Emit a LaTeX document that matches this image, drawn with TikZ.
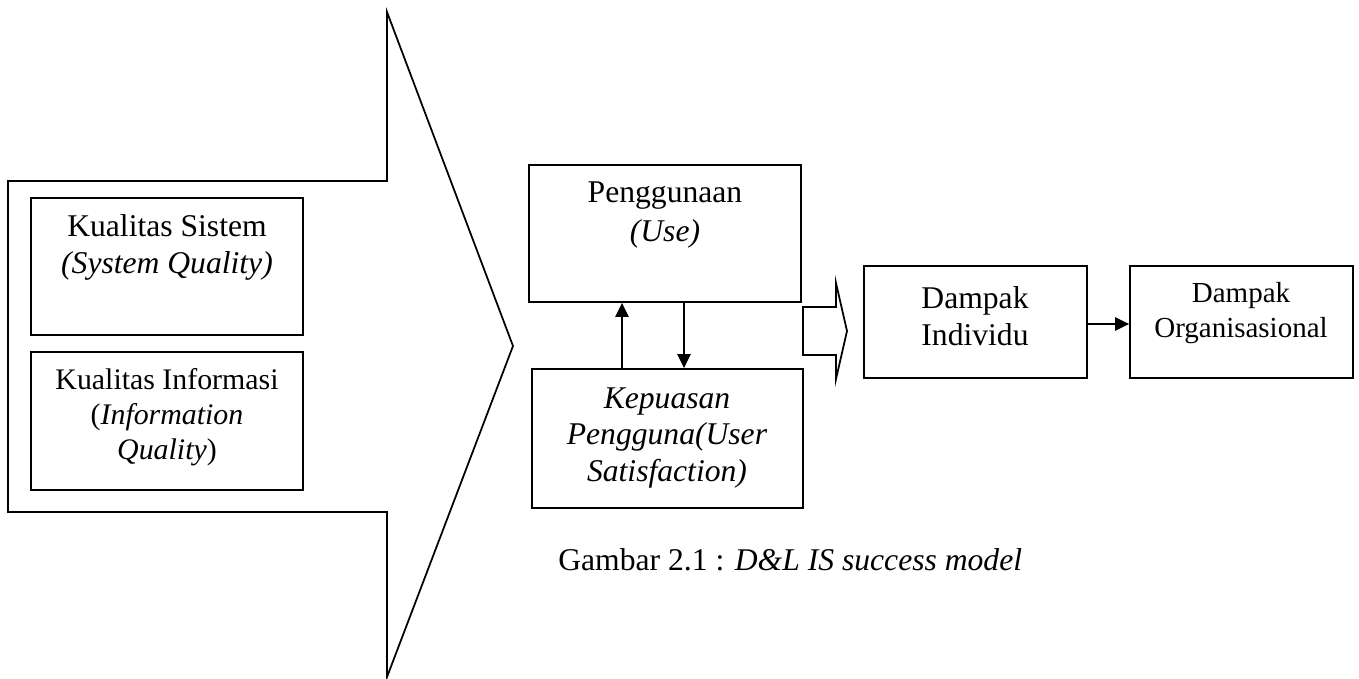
\documentclass[tikz,border=0pt]{standalone}
\usepackage{fontspec}
\setmainfont{Liberation Serif}
\usetikzlibrary{arrows.meta,fit}

\begin{document}
\begin{tikzpicture}[x=0.02cm,y=-0.02cm,line join=miter]
	\tikzstyle{kotak}=[draw,line width=1pt,inner sep=0pt];
	\tikzstyle{bentuk}=[draw,line width=1pt];
	\tikzstyle{teks}=[align=center,inner sep=0pt,font=\fontsize{18}{21}\selectfont];
	\tikzstyle{tekskecil}=[align=center,inner sep=0pt,font=\fontsize{16.5}{19.5}\selectfont];
	\tikzstyle{panah}=[line width=1.2pt,-{Triangle[length=8pt,width=7.5pt]}];
%<--------------------------------------------------------------------------->%
	\useasboundingbox (0,0) rectangle (1359,679);

	% panah besar
	\coordinate (A) at (8,181);
	\coordinate (B) at (387,181);
	\coordinate (C) at (387,12);
	\coordinate (D) at (513,346);
	\coordinate (E) at (387,677);
	\coordinate (F) at (387,512);
	\coordinate (G) at (8,512);
	\draw[bentuk] (A) -- (B) -- (C) -- (D) -- (E) -- (F) -- (G) -- cycle;

	% kotak kualitas
	\node[kotak,fit={(31,198) (303,335)}] (sq) {};
	\node[kotak,fit={(31,352) (303,490)}] (iq) {};
	\node[teks] (sqt) at (167,247) {Kualitas Sistem\\\textit{(System Quality)}};
	\node[teks,font=\fontsize{17}{20}\selectfont] (iqt) at (167,417) {Kualitas Informasi\\(\textit{Information}\\\textit{Quality})};

	% penggunaan dan kepuasan
	\node[kotak,fit={(529,165) (801,302)}] (use) {};
	\node[kotak,fit={(532,369) (803,508)}] (sat) {};
	\node[teks,font=\fontsize{18}{22}\selectfont] (uset) at (665,215) {Penggunaan\\\textit{(Use)}};
	\node[teks] (satt) at (667,438) {\textit{Kepuasan}\\\textit{Pengguna(User}\\\textit{Satisfaction)}};
	\coordinate (naik) at (622,0);
	\coordinate (turun) at (684,0);
	\draw[panah] (sat.north -| naik) -- (use.south -| naik);
	\draw[panah] (use.south -| turun) -- (sat.north -| turun);

	% panah kosong
	\coordinate (H1) at (803,307);
	\coordinate (H2) at (836,307);
	\coordinate (H3) at (836,283);
	\coordinate (H4) at (847,331);
	\coordinate (H5) at (836,379);
	\coordinate (H6) at (836,355);
	\coordinate (H7) at (803,355);
	\draw[bentuk] (H1) -- (H2) -- (H3) -- (H4) -- (H5) -- (H6) -- (H7) -- cycle;

	% dampak
	\node[kotak,fit={(864,266) (1087,378)}] (ind) {};
	\node[kotak,fit={(1130,266) (1353,378)}] (org) {};
	\node[teks] (indt) at (975,316) {Dampak\\Individu};
	\node[tekskecil] (orgt) at (1241,313) {Dampak\\Organisasional};
	\coordinate (tengah) at (0,324);
	\draw[panah] (ind.east |- tengah) -- (org.west |- tengah);

	%% keterangan
	\node[teks,anchor=west] (ket) at (558,560) {Gambar 2.1 : \textit{D\&L IS success model}};
\end{tikzpicture}
\end{document}
